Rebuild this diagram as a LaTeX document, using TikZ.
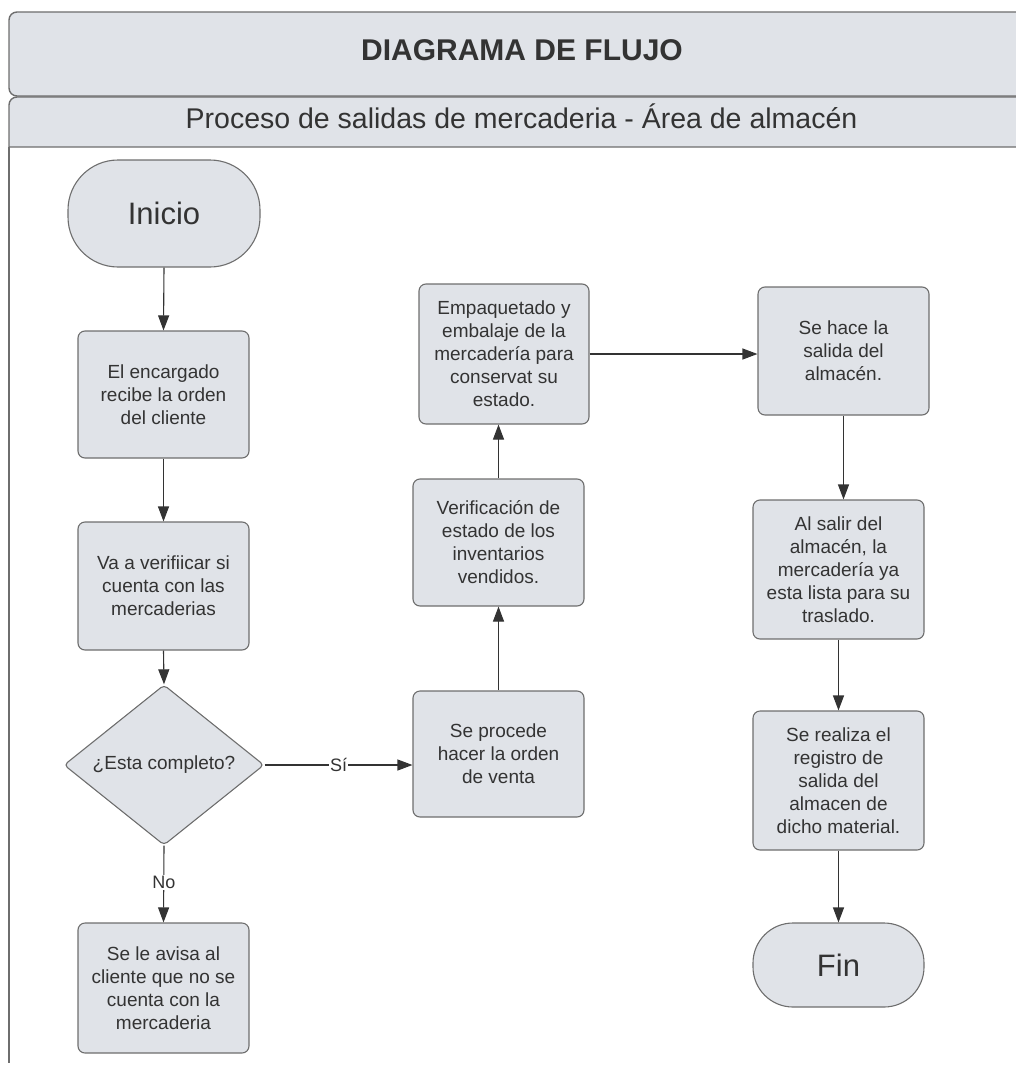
\documentclass[tikz,border=0pt]{standalone}
\usepackage{fontspec}
\setmainfont{Liberation Sans}
\usetikzlibrary{shapes.geometric, arrows.meta}

\definecolor{boxfill}{HTML}{E0E3E8}
\definecolor{boxline}{HTML}{6E6E6E}
\definecolor{ink}{HTML}{333333}

\begin{document}
\begin{tikzpicture}[x=1pt, y=-1pt,
  hdrline/.style={draw=boxline, line width=1.4pt},
  stepbox/.style={draw=boxline, fill=boxfill, line width=1.1pt, rounded corners=7pt,
    align=center, text=ink, inner sep=0pt, minimum width=171pt,
    font=\fontsize{19}{23}\selectfont},
  terminal/.style={stepbox, font=\fontsize{31}{36}\selectfont},
  decision/.style={diamond, draw=boxline, fill=boxfill, line width=1.1pt, rounded corners=4pt,
    text=ink, inner sep=0pt, minimum width=200pt, minimum height=144pt,
    font=\fontsize{19}{23}\selectfont},
  flow/.style={draw=ink, line width=1.1pt, -{Triangle[length=15pt, width=11pt]}},
  lbl/.style={fill=white, text=ink, inner sep=1pt, font=\fontsize{18}{22}\selectfont}
]
\useasboundingbox (0,0) rectangle (1015,1065);

% ---- header: title bar, subtitle bar and lane edge
\draw[hdrline, fill=boxfill, rounded corners=8pt] (9,12) rectangle (1040,96);
\draw[hdrline, fill=boxfill] (9,147) -- (9,105) arc[start angle=180, end angle=270, radius=8]
  -- (1040,97) -- (1040,147) -- cycle;
\draw[hdrline] (9,147) -- (9,1063);

\node[anchor=base, text=ink, font=\bfseries\fontsize{30}{36}\selectfont] (title) at (522,61) {DIAGRAMA DE FLUJO};
\node[anchor=base, text=ink, font=\fontsize{28.5}{34}\selectfont] (subtitle) at (521.5,128.5)
  {Proceso de salidas de mercaderia - Área de almacén};

% ---- left column
\node[terminal, minimum width=192pt, minimum height=107pt, rounded corners=50pt] (inicio) at (164,213.5) {Inicio};
\node[stepbox, minimum height=127pt] (recibe) at (163.5,394.5) {El encargado\\recibe la orden\\del cliente};
\node[stepbox, minimum height=128pt] (verifica) at (163.5,586) {Va a verifiicar si\\cuenta con las\\mercaderias};
\node[decision] (completo) at (164,765) {¿Esta completo?};
\node[stepbox, minimum height=130pt] (avisa) at (163.5,988) {Se le avisa al\\cliente que no se\\cuenta con la\\mercaderia};

% ---- middle column
\node[stepbox, minimum height=126pt] (procede) at (498.5,754) {Se procede\\hacer la orden\\de venta};
\node[stepbox, minimum height=127pt] (estado) at (498.5,542.5) {Verificación de\\estado de los\\inventarios\\vendidos.};
\node[stepbox, minimum width=170pt, minimum height=140pt] (empaque) at (504,354) {Empaquetado y\\embalaje de la\\mercadería para\\conservat su\\estado.};

% ---- right column
\node[stepbox, minimum height=128pt] (salida) at (843.5,351) {Se hace la\\salida del\\almacén.};
\node[stepbox, minimum height=139pt] (lista) at (838.5,569.5) {Al salir del\\almacén, la\\mercadería ya\\esta lista para su\\traslado.};
\node[stepbox, minimum height=139pt] (registro) at (838.5,780.5) {Se realiza el\\registro de\\salida del\\almacen de\\dicho material.};
\node[terminal, minimum height=84pt, rounded corners=40pt] (fin) at (838.5,965) {Fin};

% ---- connectors
\draw[flow] (inicio.south) -- (recibe.north);
\draw[flow] (recibe.south) -- (verifica.north);
\draw[flow] (verifica.south) -- (completo.north);
\draw[flow] (completo.east) -- node[lbl] {Sí} (completo.east -| procede.west);
\draw[flow] (completo.south) -- node[lbl, pos=0.48] {No} (avisa.north);
\draw[flow] (procede.north) -- (estado.south);
\draw[flow] (estado.north) -- (estado.north |- empaque.south);
\draw[flow] (empaque.east) -- (empaque.east -| salida.west);
\draw[flow] (salida.south) -- (salida.south |- lista.north);
\draw[flow] (lista.south) -- (registro.north);
\draw[flow] (registro.south) -- (fin.north);
\end{tikzpicture}
\end{document}
